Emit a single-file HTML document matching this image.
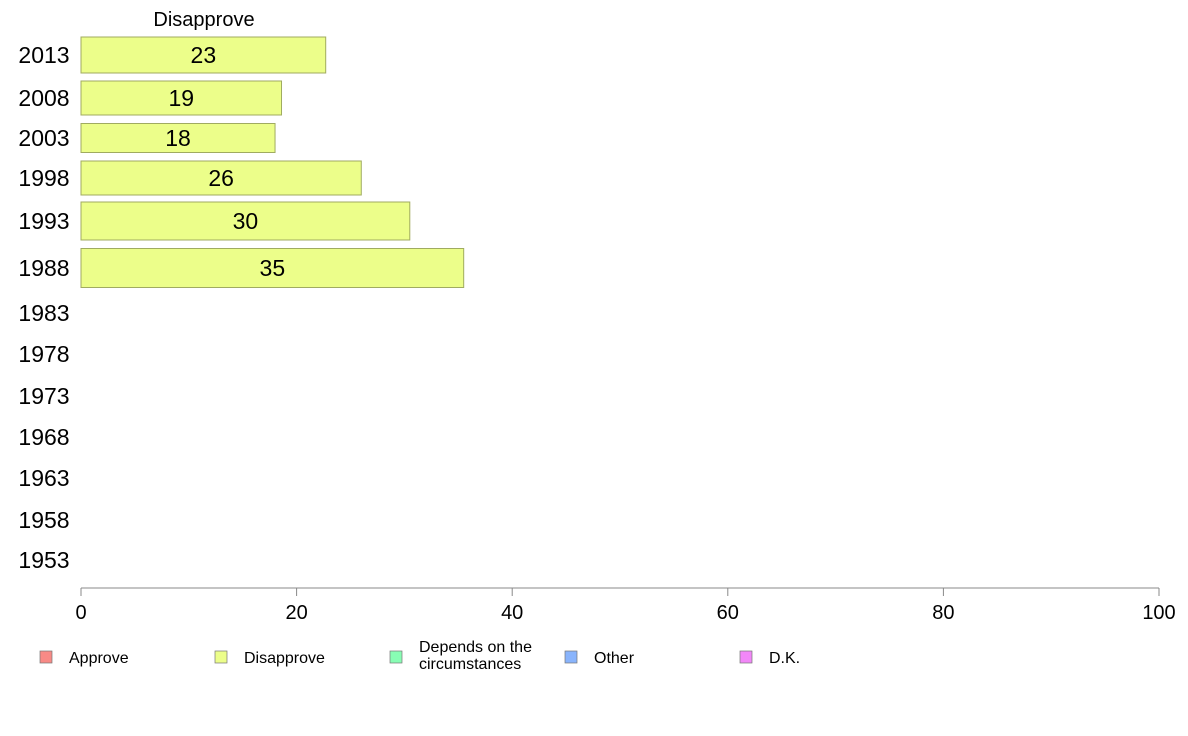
<!DOCTYPE html>
<html><head><meta charset="utf-8"><style>
body{margin:0;background:#fff;font-family:"Liberation Sans",Arial,sans-serif;}
svg{display:block}
</style></head><body>
<svg id="chart" width="1188" height="736">
<text x="204" y="26" font-size="20" text-anchor="middle">Disapprove</text>
<g id="rows"></g>
<g id="axis"></g>
<g id="legend"></g>
</svg>
<script>
const years = ["2013","2008","2003","1998","1993","1988","1983","1978","1973","1968","1963","1958","1953"];
const disapprove = [22.7, 18.6, 18.0, 26.0, 30.5, 35.5, null, null, null, null, null, null, null];
const valueLabels = ["23","19","18","26","30","35","","","","","","",""];
const ticks = [0, 20, 40, 60, 80, 100];
const legendLabels = [["Approve"],["Disapprove"],["Depends on the","circumstances"],["Other"],["D.K."]];
const legendColors = ["#f88a86","#ecfe8a","#88fdb4","#89b4fc","#f287f8"];

const NS = "http://www.w3.org/2000/svg";
const x0 = 81, x1 = 1159;
const xs = v => x0 + (x1 - x0) * v / 100;
const rowCenters = [55, 98, 138, 178, 221, 268, 313, 354, 396, 437, 478, 520, 560];
const rowHeights = [36, 34, 29, 34, 38, 39, 38, 38, 38, 38, 38, 38, 38];
function mk(tag, attrs, parent){const e=document.createElementNS(NS,tag);for(const k in attrs)e.setAttribute(k,attrs[k]);parent.appendChild(e);return e;}
const rows = document.getElementById("rows");
years.forEach((y,i)=>{
  const c = rowCenters[i], h = rowHeights[i];
  const t = mk("text",{x:44,y:c+8,"font-size":23,"text-anchor":"middle"},rows);
  t.textContent = y;
  
  
  const v = disapprove[i];
  if (v != null) {
    const r = mk("rect",{x:x0,y:c-h/2,width:xs(v)-x0,height:h,fill:"#ecfe8a",stroke:"#a0ab60","stroke-width":1},rows);
    
    
    const l = mk("text",{x:(x0+xs(v))/2,y:c+8,"font-size":23,"text-anchor":"middle"},rows);
    l.textContent = valueLabels[i];
    
    
  }
});
const ax = document.getElementById("axis");
mk("line",{x1:x0,x2:x1,y1:588,y2:588,stroke:"#888","stroke-width":1},ax);
ticks.forEach(t=>{
  mk("line",{x1:xs(t),x2:xs(t),y1:588,y2:596,stroke:"#888"},ax);
  const l = mk("text",{x:xs(t),y:619,"font-size":20,"text-anchor":"middle"},ax);
  l.textContent = t;
  
  
});
const lg = document.getElementById("legend");
legendLabels.forEach((lines,i)=>{
  const bx = 40 + i*175;
  const g = mk("g",{},lg);
  
  
  mk("rect",{x:bx,y:651,width:12,height:12,fill:legendColors[i],stroke:"#777","stroke-width":0.7},g);
  lines.forEach((s,j)=>{
    const t = mk("text",{x:bx+29,y:(lines.length>1?652:663)+j*17,"font-size":16},g);
    t.textContent = s;
  });
});
</script>
</body></html>
